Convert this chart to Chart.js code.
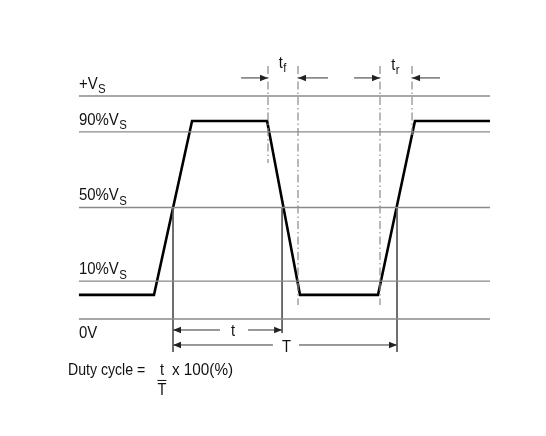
<!DOCTYPE html>
<html>
<head>
<meta charset="utf-8">
<script src="https://cdn.jsdelivr.net/npm/chart.js@4.4.0/dist/chart.umd.min.js"></script>
<style>
    body { margin: 0; background: #fff; }
    #wrap { width: 546px; height: 436px; position: relative; }
</style>
</head>
<body>
<div id="wrap"><canvas id="pulse_canvas"></canvas></div>
<script>
// time axis: percent of period T (0 = first 50% crossing), level axis: diagram units (0V = 0, +Vs = 100)
const level_names = ["+V", "90%V", "50%V", "10%V", "0V"];
const level_subs = ["S", "S", "S", "S", ""];
const level_values = [100, 83.9, 50, 17, 0];
const level_span = [-42, 141.5];

const wave_time = [-42, -8.5, 8.5, 42, 56.7, 91.5, 108, 141.5];
const wave_level = [10.8, 10.8, 88.8, 88.8, 10.8, 10.8, 88.8, 88.8];

// dash-dot markers for tf / tr
const marker_time = [42.4, 55.8, 92.4, 106.7];
const marker_top = [113.5, 113.5, 113.5, 113.5];
const marker_bottom = [70, 6.3, 6.3, 82.5];

// solid verticals at the 50% crossings
const cross_time = [0, 48.7, 100];
const cross_top = [50, 50, 50];
const cross_bottom = [-14.8, -6.3, -14.8];

// arrows: [tail, tip] in time, at a level
const arrow_tail = [21, 33.5, 44.6, 56.25, 30.4, 69.2, 80.8, 119.2];
const arrow_tip = [0, 48.7, 0, 100, 42.4, 55.8, 92.4, 106.7];
const arrow_level = [-4.93, -4.93, -11.66, -11.66, 108.1, 108.1, 108.1, 108.1];

const FONT = '"Liberation Sans", Arial, sans-serif';

function seg(x0, y0, x1, y1) {
    return [{x: x0, y: y0}, {x: x1, y: y1}];
}

let datasets = [];

for (let i = 0; i < level_values.length; i++) {
    datasets.push({
        data: seg(level_span[0], level_values[i], level_span[1], level_values[i]),
        borderColor: '#8a8a8a',
        borderWidth: 1.4
    });
}

for (let i = 0; i < marker_time.length; i++) {
    datasets.push({
        data: seg(marker_time[i], marker_top[i], marker_time[i], marker_bottom[i]),
        borderColor: '#8a8a8a',
        borderWidth: 1.2,
        borderDash: [8, 3, 1.5, 3]
    });
}

for (let i = 0; i < cross_time.length; i++) {
    datasets.push({
        data: seg(cross_time[i], cross_top[i], cross_time[i], cross_bottom[i]),
        borderColor: '#5a5a5a',
        borderWidth: 1
    });
}

for (let i = 0; i < arrow_tail.length; i++) {
    datasets.push({
        data: seg(arrow_tail[i], arrow_level[i], arrow_tip[i], arrow_level[i]),
        borderColor: '#333',
        borderWidth: 1
    });
}

datasets.push({
    data: wave_time.map((t, i) => ({x: t, y: wave_level[i]})),
    borderColor: '#000',
    borderWidth: 2.6,
    borderJoinStyle: 'miter'
});

function draw_text(ctx, x, y, main, sub, size, align, squeeze) {
    squeeze = squeeze || 0.86;
    ctx.save();
    ctx.font = size + 'px ' + FONT;
    const w = ctx.measureText(main).width;
    const sub_size = Math.round(size * 0.74);
    ctx.font = sub_size + 'px ' + FONT;
    const sw = sub ? ctx.measureText(sub).width : 0;
    const total = (w + sw) * squeeze;
    let x0 = x;
    if (align === 'center') x0 = x - total / 2;
    ctx.translate(x0, y);
    ctx.scale(squeeze, 1);
    ctx.fillStyle = '#111';
    ctx.textBaseline = 'alphabetic';
    ctx.textAlign = 'left';
    ctx.font = size + 'px ' + FONT;
    ctx.fillText(main, 0, 0);
    if (sub) {
        ctx.font = sub_size + 'px ' + FONT;
        ctx.fillText(sub, w + 0.5, size * 0.26);
    }
    ctx.restore();
    return total;
}

const annotations = {
    id: 'annotations',
    afterDatasetsDraw(chart) {
        const ctx = chart.ctx;
        const xs = chart.scales.x;
        const ys = chart.scales.y;

        // arrowheads
        ctx.save();
        ctx.fillStyle = '#222';
        for (let i = 0; i < arrow_tip.length; i++) {
            const px = xs.getPixelForValue(arrow_tip[i]);
            const tx = xs.getPixelForValue(arrow_tail[i]);
            const py = ys.getPixelForValue(arrow_level[i]);
            const dir = tx < px ? 1 : -1;
            ctx.beginPath();
            ctx.moveTo(px, py);
            ctx.lineTo(px - dir * 8, py - 3.2);
            ctx.lineTo(px - dir * 8, py + 3.2);
            ctx.closePath();
            ctx.fill();
        }
        ctx.restore();

        // level labels
        const lx = xs.getPixelForValue(level_span[0]);
        for (let i = 0; i < level_values.length; i++) {
            const ly = ys.getPixelForValue(level_values[i]);
            const y = level_values[i] === 0 ? ly + 19 : ly - 7;
            draw_text(ctx, lx, y, level_names[i], level_subs[i], 17, 'left', 0.88);
        }

        // t and T
        const yt = ys.getPixelForValue(arrow_level[0]);
        draw_text(ctx, xs.getPixelForValue(26.8), yt + 6, 't', '', 17, 'center');
        const yT = ys.getPixelForValue(arrow_level[2]);
        draw_text(ctx, xs.getPixelForValue(50.6), yT + 7, 'T', '', 17, 'center');

        // tf and tr
        const yr = ys.getPixelForValue(arrow_level[4]);
        draw_text(ctx, xs.getPixelForValue(48.8), yr - 10, 't', 'f', 17, 'center');
        draw_text(ctx, xs.getPixelForValue(99.2), yr - 8, 't', 'r', 17, 'center');

        // duty cycle formula
        const dx = xs.getPixelForValue(-46.9);
        const dy = ys.getPixelForValue(-25.1);
        draw_text(ctx, dx, dy, 'Duty cycle =', '', 17, 'left', 0.83);
        const fx = dx + 94;
        draw_text(ctx, fx, dy, 't', '', 17, 'center');
        ctx.save();
        ctx.strokeStyle = '#111';
        ctx.lineWidth = 1;
        ctx.beginPath();
        ctx.moveTo(fx - 4.5, dy + 5.5);
        ctx.lineTo(fx + 4.5, dy + 5.5);
        ctx.stroke();
        ctx.restore();
        draw_text(ctx, fx, dy + 20, 'T', '', 17, 'center');
        draw_text(ctx, dx + 104, dy, 'x 100(%)', '', 17, 'left', 0.9);
    }
};

const config = {
    type: 'scatter',
    data: {datasets: datasets},
    options: {
        responsive: true,
        maintainAspectRatio: false,
        animation: false,
        layout: {padding: 0},
        showLine: true,
        elements: {
            point: {radius: 0, hoverRadius: 0},
            line: {tension: 0, fill: false}
        },
        plugins: {
            legend: {display: false},
            tooltip: {enabled: false}
        },
        scales: {
            x: {type: 'linear', display: false, min: -77.23, max: 166.5},
            y: {type: 'linear', display: false, min: -52.47, max: 143.05}
        }
    },
    plugins: [annotations]
};

new Chart(document.getElementById('pulse_canvas'), config);
</script>
</body>
</html>
